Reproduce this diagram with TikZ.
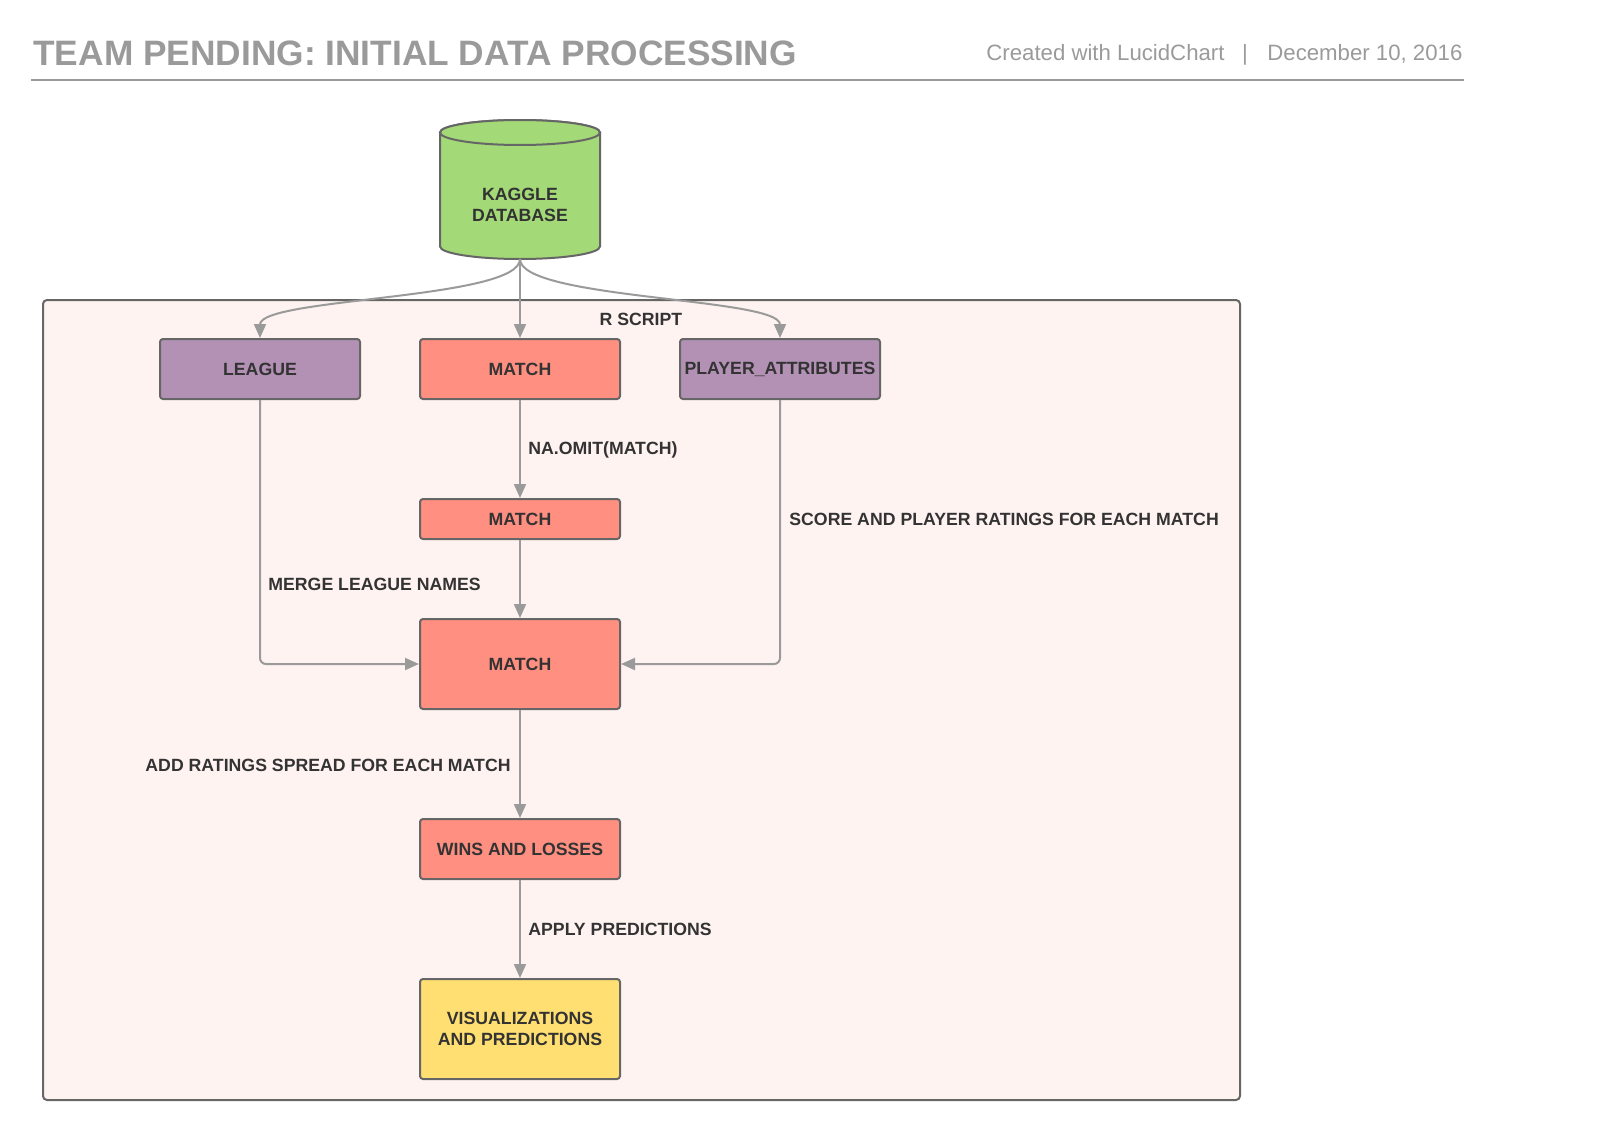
\documentclass[tikz,border=0pt]{standalone}
\usepackage{fontspec}
\setmainfont{Liberation Sans}
\usetikzlibrary{arrows.meta, positioning}
\definecolor{lineGray}{HTML}{9A9A9A}
\definecolor{borderGray}{HTML}{666666}
\definecolor{textDark}{HTML}{333333}
\definecolor{tablePurple}{HTML}{B391B5}
\definecolor{matchSalmon}{HTML}{FF8F80}
\definecolor{outYellow}{HTML}{FFDF71}
\definecolor{dbGreen}{HTML}{A3D977}
\definecolor{scriptPink}{HTML}{FFF3F1}
\newcommand{\labelfont}{\fontsize{8.85}{10.8}\selectfont\bfseries}
\newcommand{\headfont}{\fontsize{11.1}{13}\selectfont}
\tikzset{
    block/.style = {
        draw=borderGray, line width=1pt, rounded corners=1.5pt, minimum width=100pt,
        minimum height=30pt, font=\labelfont, text=textDark, align=center, inner sep=1pt
    },
    tablebox/.style = {block, fill=tablePurple},
    matchbox/.style = {block, fill=matchSalmon},
    outbox/.style = {block, fill=outYellow},
    dbshape/.style = {draw=borderGray, line width=1pt, fill=dbGreen},
    container/.style = {
        draw=borderGray, line width=1pt, fill=scriptPink, rounded corners=2pt,
        minimum width=598.5pt, minimum height=400pt
    },
    steplabel/.style = {font=\labelfont, text=textDark, inner sep=0pt},
    flow/.style = {draw=lineGray, line width=1pt, -{Triangle[length=7pt,width=6pt]}},
}

\begin{document}
\begin{tikzpicture}[x=0.5pt, y=-0.5pt]
        \useasboundingbox (0,0) rectangle (1608,1140);
        % Header
        \node[anchor=base west, inner sep=0pt, text=lineGray, font=\fontsize{17.65}{20}\selectfont\bfseries] (title) at (33,65) {TEAM PENDING: INITIAL DATA PROCESSING};
        \node[anchor=base west, inner sep=0pt, text=lineGray, font=\headfont] (tool) at (986,61) {Created with LucidChart};
        \node[anchor=base, inner sep=0pt, text=lineGray, font=\headfont] (sep) at (1245,61) {|};
        \node[anchor=base west, inner sep=0pt, text=lineGray, font=\headfont] (date) at (1267,61) {December 10, 2016};
        \draw[lineGray, line width=1pt] (31,80) -- (1464,80);

        % Database cylinder
        \draw[dbshape] (440,132.5) -- (440,246.5) arc[start angle=180, end angle=360, x radius=40pt, y radius=6.25pt]
            -- (600,132.5) arc[start angle=0, end angle=180, x radius=40pt, y radius=6.25pt] -- cycle;
        \draw[dbshape] (520,132.5) ellipse[x radius=40pt, y radius=6.25pt];
        \node[steplabel, align=center] (kaggle) at (520,205) {KAGGLE\\DATABASE};
        \coordinate (kaggle-bottom) at (520,259);

        % R script area
        \node[container] (rscript) at (641.5,700) {};
        \node[steplabel] (rlabel) at (641,319) {R SCRIPT};

        % Place the blocks
        \node[tablebox] (league) at (260,369) {LEAGUE};
        \node[matchbox] (match) at (520,369) {MATCH};
        \node[tablebox] (players) at (780,369) {PLAYER\_ATTRIBUTES};
        \node[matchbox, minimum height=20pt] (cleanmatch) at (520,519) {MATCH};
        \node[matchbox, minimum height=45pt] (merged) at (520,664) {MATCH};
        \node[matchbox] (results) at (520,849) {WINS AND LOSSES};
        \node[outbox, minimum height=50pt] (visuals) at (520,1029) {VISUALIZATIONS\\AND PREDICTIONS};

        % Connectors
        \begin{scope}[flow]
            \draw (kaggle-bottom) .. controls +(0,40.5) and +(0,-40.5) .. (league.north);
            \draw (kaggle-bottom) -- (match.north);
            \draw (kaggle-bottom) .. controls +(0,40.5) and +(0,-40.5) .. (players.north);
            \draw (match) -- (cleanmatch);
            \draw (cleanmatch) -- (merged);
            \draw[rounded corners=3pt] (league.south) |- (merged.west);
            \draw[rounded corners=3pt] (players.south) |- (merged.east);
            \draw (merged) -- (results);
            \draw (results) -- (visuals);
        \end{scope}

        % Step labels
        \node[steplabel, anchor=west] (omit) at (528,449.5) {NA.OMIT(MATCH)};
        \node[steplabel, anchor=west] (ratings) at (789,519.5) {SCORE AND PLAYER RATINGS FOR EACH MATCH};
        \node[steplabel, anchor=west] (names) at (268,584.5) {MERGE LEAGUE NAMES};
        \node[steplabel, anchor=east] (spread) at (511,765.5) {ADD RATINGS SPREAD FOR EACH MATCH};
        \node[steplabel, anchor=west] (predict) at (528,929.5) {APPLY PREDICTIONS};
\end{tikzpicture}
\end{document}
